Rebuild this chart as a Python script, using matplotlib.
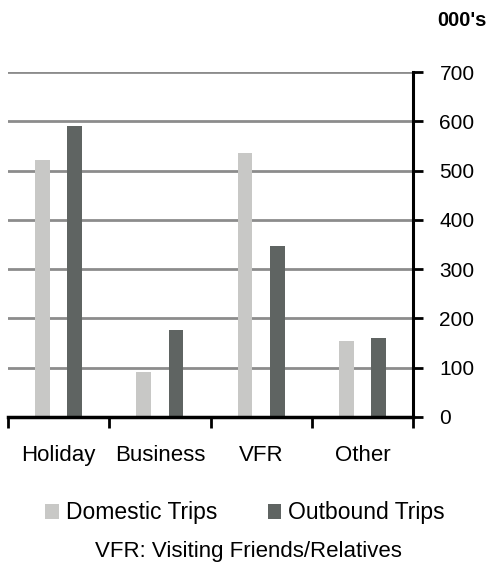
import matplotlib
matplotlib.use("Agg")
import matplotlib.pyplot as plt
import numpy as np

categories = ["Holiday", "Business", "VFR", "Other"]
domestic = [521, 92, 535, 155]
outbound = [590, 176, 347, 160]
yticks = [0, 100, 200, 300, 400, 500, 600, 700]

plt.rcParams['font.family'] = ['Liberation Sans', 'DejaVu Sans']

W, H = 495, 565
fig = plt.figure(figsize=(W/100, H/100), dpi=100)
ax = fig.add_axes([8/W, 1-417/H, (413-8)/W, (417-72)/H])

x = np.arange(len(categories))
bw = 0.145
off = 0.16
ax.bar(x - off, domestic, bw, color="#c8c8c6", label="Domestic Trips", zorder=3)
ax.bar(x + off, outbound, bw, color="#5f6462", label="Outbound Trips", zorder=3)

ax.set_xlim(-0.5, len(categories) - 0.5)
ax.set_ylim(0, 700)
ax.yaxis.tick_right()
ax.set_yticks(yticks)
ax.set_yticklabels([str(v) for v in yticks], fontsize=15)
ax.tick_params(axis='y', direction='out', length=7, width=2, pad=12, color='black')
ax.grid(axis='y', color='#8c8c8c', linewidth=2, zorder=0)

ax.set_xticks(np.arange(len(categories) + 1) - 0.5)
ax.set_xticklabels([])
ax.tick_params(axis='x', direction='out', length=8, width=2, color='black')
ax.set_xticks(x, minor=True)
ax.set_xticklabels(categories, minor=True, fontsize=16)
ax.tick_params(axis='x', which='minor', length=0, pad=20)

for s in ['top', 'left']:
    ax.spines[s].set_visible(False)
ax.spines['right'].set_linewidth(2.2)
ax.spines['bottom'].set_linewidth(2.5)
ax.spines['right'].set_zorder(4)
ax.spines['bottom'].set_zorder(4)

fig.text(437/W, 1-20/H, "000's", fontsize=14.5, fontweight='bold', ha='left', va='center')

handles, labels = ax.get_legend_handles_labels()
fig.legend(handles, labels, loc='center', bbox_to_anchor=(245/W, 1-513/H), ncol=2,
           frameon=False, fontsize=16.5, handlelength=0.6, handleheight=0.6,
           handletextpad=0.3, columnspacing=2.2)

fig.text(248/W, 1-552/H, "VFR: Visiting Friends/Relatives", fontsize=16, ha='center', va='center')

fig.savefig("out.png", dpi=100)
